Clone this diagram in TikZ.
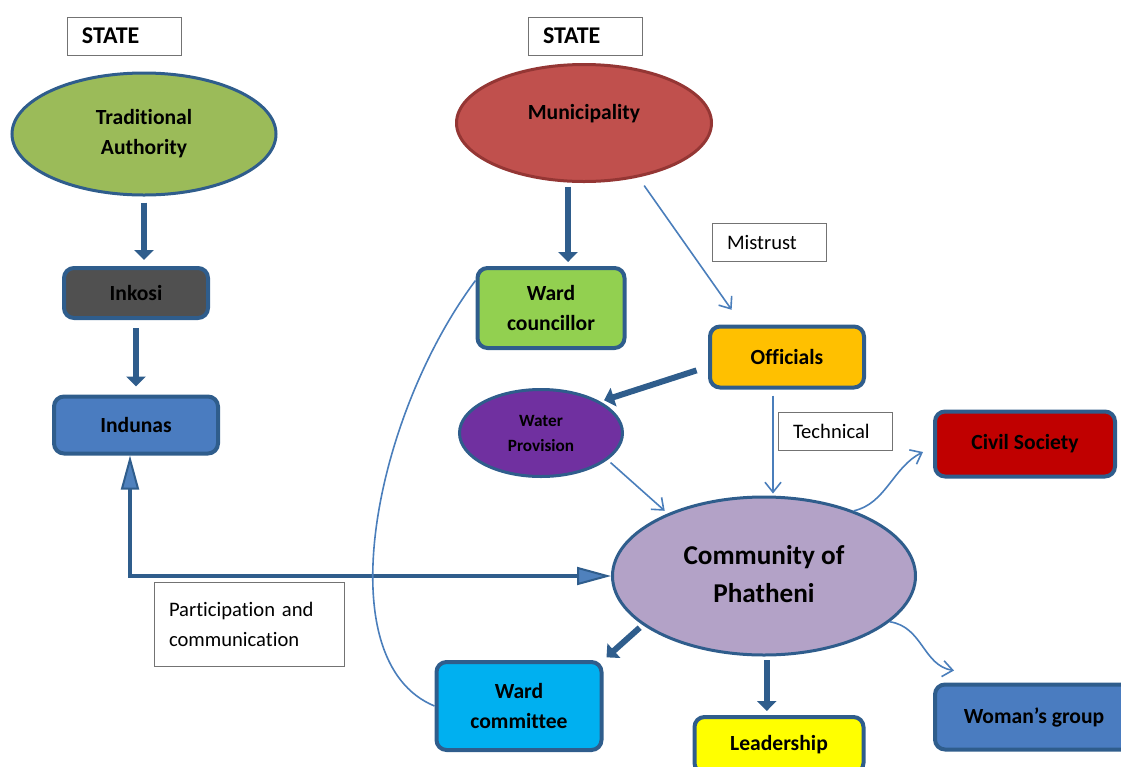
\documentclass[tikz,border=0pt]{standalone}
\usepackage{fontspec}
\setmainfont{Carlito}[Ligatures=CommonOff]
\usepackage{tikz}
\usetikzlibrary{arrows.meta,shapes.geometric}

\definecolor{edgeblue}{HTML}{2F5D8C}
\definecolor{thinblue}{HTML}{4A7EBB}
\definecolor{tipblue}{HTML}{4F81BD}
\definecolor{tradgreen}{HTML}{9BBB59}
\definecolor{munired}{HTML}{C0504D}
\definecolor{muniedge}{HTML}{943634}
\definecolor{inkgray}{HTML}{505050}
\definecolor{indblue}{HTML}{4A7CC0}
\definecolor{councgreen}{HTML}{92D050}
\definecolor{offorange}{HTML}{FFC000}
\definecolor{waterpurple}{HTML}{7030A0}
\definecolor{commlilac}{HTML}{B3A2C7}
\definecolor{civilred}{HTML}{C00000}
\definecolor{committeeblue}{HTML}{00B0F0}
\definecolor{leadyellow}{HTML}{FFFF00}

\begin{document}
\begin{tikzpicture}[
    x=0.5pt, y=-0.5pt,
    font=\fontsize{10.8}{15}\selectfont\bfseries,
    box/.style={draw=edgeblue, line width=2pt, rounded corners=5pt, align=center},
    oval/.style={ellipse, draw=edgeblue, line width=1.5pt, align=center, inner sep=0pt},
    labelbox/.style={draw=black!55, line width=0.5pt, minimum width=57pt, minimum height=19pt, text width=42pt, inner xsep=7.5pt, align=left, font=\fontsize{10.3}{15}\selectfont},
    statebox/.style={labelbox, font=\fontsize{12}{14}\selectfont\bfseries},
    thickflow/.style={-{Triangle[length=5pt,width=9.5pt]}, line width=3pt, draw=edgeblue},
    thinflow/.style={-{Straight Barb[length=5pt,width=8pt]}, line width=0.8pt, draw=thinblue},
    duoflow/.style={{Triangle[length=17pt,width=9pt,fill=tipblue,line width=1pt]}-{Triangle[length=17pt,width=9pt,fill=tipblue,line width=1pt]}, line width=1.7pt, draw=edgeblue}
  ]
  \useasboundingbox (0,0) rectangle (1121,767);

  % state boxes
  \node[statebox] (state1) at (124,36) {STATE};
  \node[statebox] (state2) at (585,36) {STATE};

  % traditional side
  \node[oval, fill=tradgreen, minimum width=132pt, minimum height=61pt] (trad) at (144,134) {Traditional\\Authority};
  \node[box, fill=inkgray, minimum width=72pt, minimum height=25pt] (inkosi) at (136,293) {Inkosi};
  \node[box, fill=indblue, minimum width=82pt, minimum height=28.5pt] (indunas) at (136,425) {Indunas};

  % municipal side
  \node[oval, fill=munired, draw=muniedge, minimum width=127.5pt, minimum height=58.5pt] (muni) at (584,123) {\raisebox{11pt}{Municipality}};
  \node[box, fill=councgreen, minimum width=73.5pt, minimum height=40pt] (wcoun) at (551,308) {Ward\\councillor};
  \node[box, fill=offorange, minimum width=77pt, minimum height=30.5pt] (officials) at (787,357) {Officials};
  \node[oval, fill=waterpurple, minimum width=81.5pt, minimum height=43.5pt, font=\fontsize{8.6}{12.5}\selectfont\bfseries] (water) at (541,433) {Water\\Provision};

  % community and groups
  \node[oval, fill=commlilac, minimum width=151.5pt, minimum height=79pt, font=\fontsize{13.6}{19}\selectfont\bfseries] (comm) at (764,576) {\raisebox{9pt}{\begin{tabular}{@{}c@{}}Community of\\Phatheni\end{tabular}}};
  \node[box, fill=civilred, minimum width=90pt, minimum height=32.5pt] (civil) at (1025,444) {Civil Society};
  \node[box, fill=indblue, minimum width=99pt, minimum height=32.5pt] (woman) at (1034,717) {Woman’s group};
  \node[box, fill=leadyellow, minimum width=84.5pt, minimum height=28pt] (leader) at (779,745) {Leadership};
  \node[box, fill=committeeblue, minimum width=82.5pt, minimum height=44pt] (wcomm) at (519,706) {Ward\\committee};

  % text labels
  \node[labelbox] (mistrust) at (769,242) {Mistrust};
  \node[labelbox] (technical) at (835,431) {Technical};
  \node[labelbox, minimum width=95pt, minimum height=42pt, text width=80pt] (partic) at (249,624) {Participation~and\\communication};

  % arrows
  \draw[thickflow, shorten <=3pt, shorten >=3pt] (trad.south) -- (trad.south |- inkosi.north);
  \draw[thickflow, shorten <=4pt, shorten >=4pt] (inkosi) -- (indunas);
  \draw[thickflow, shorten <=2pt, shorten >=2pt] (muni.255) -- (muni.255 |- wcoun.north);
  \draw[thinflow, shorten <=5pt, shorten >=9pt] (muni.-45) -- ([xshift=17pt]officials.north west);
  \draw[thickflow, shorten <=6pt, shorten >=2pt] (officials.187) -- (water.28);
  \draw[thinflow, shorten <=3pt, shorten >=1pt] ([xshift=-7pt]officials.south) -- ([xshift=-7pt]officials.south |- comm.north);
  \draw[thinflow, shorten <=2pt, shorten >=2pt] (water.-22) -- (comm.147);
  \draw[thinflow] (comm.36) .. controls +(16pt,3.5pt) and +(-15pt,-7.5pt) .. ([shift={(-5pt,-4pt)}]civil.west);
  \draw[thinflow] (comm.-20) .. controls +(16.5pt,-2.5pt) and +(-15.5pt,2.5pt) .. ([shift={(10.5pt,6pt)}]woman.north west);
  \draw[thickflow, shorten <=2pt, shorten >=2pt] (comm.202) -- (wcomm.north east);
  \draw[thickflow, shorten <=2pt, shorten >=2pt] (comm.272) -- (comm.272 |- leader.north);
  \draw[duoflow] ([xshift=-3pt]indunas.south) |- (comm.west);
  \draw[draw=thinblue, line width=0.8pt] (wcomm.west) .. controls +(-54.5pt,22.5pt) and +(-50.5pt,-67.5pt) .. (wcoun.160);
\end{tikzpicture}
\end{document}
